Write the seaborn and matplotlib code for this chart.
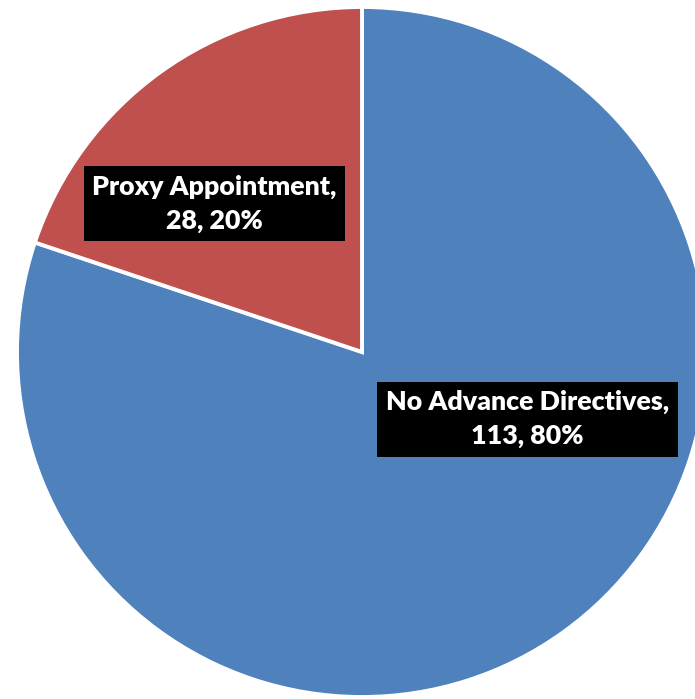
import matplotlib
matplotlib.use("Agg")
import matplotlib.pyplot as plt
import seaborn as sns

categories = ["No Advance Directives", "Proxy Appointment"]
counts = [113, 28]
colors = ["#4F81BD", "#C0504D"]

sns.set_style("white")
plt.rcParams["font.family"] = ["Lato", "DejaVu Sans"]

fig = plt.figure(figsize=(6.95, 6.99), dpi=100)
ax = fig.add_axes([0, 0, 1, 1])

wedges, _ = ax.pie(counts, colors=colors, startangle=90, counterclock=False,
                   radius=1.0, center=(0, 0),
                   wedgeprops=dict(edgecolor="white", linewidth=2.8))

scale = 345.0
cx, cy = 362.0, 352.0
W, H = 695.0, 699.0
ax.set_aspect("equal", adjustable="datalim")
ax.set_xlim(-cx / scale, (W - cx) / scale)
ax.set_ylim(-(H - cy) / scale, cy / scale)
ax.axis("off")

total = sum(counts)
label_pos = [(0.480, -0.195), (-0.428, 0.430)]
for cat, val, (lx, ly) in zip(categories, counts, label_pos):
    pct = 100.0 * val / total
    ax.text(lx, ly, f"{cat},\n{val}, {pct:.0f}%", ha="center", va="center",
            color="white", fontsize=19.3, fontweight="heavy", linespacing=1.48,
            bbox=dict(boxstyle="square,pad=0.32", facecolor="black", edgecolor="none"))

fig.savefig("out.png", dpi=100)
